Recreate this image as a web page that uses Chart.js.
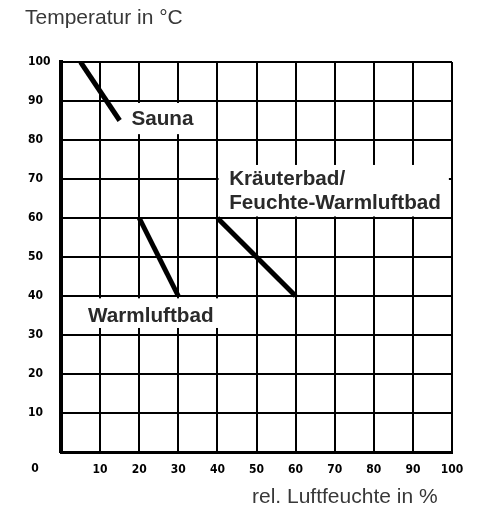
<!DOCTYPE html>
<html lang="de">
<head>
    <meta charset="UTF-8">
    <title>Temperatur / Luftfeuchte</title>
    <style>
        body { margin: 0; background: #fff; }
        #wrap { width: 480px; height: 507px; }
    </style>
    <script src="https://cdn.jsdelivr.net/npm/chart.js@4.4.2/dist/chart.umd.min.js"></script>
</head>
<body>
    <div id="wrap"><canvas id="klimaChart" width="480" height="507"></canvas></div>

    <script>
        // Achsen
        const humidityTicks = [0, 10, 20, 30, 40, 50, 60, 70, 80, 90, 100];
        const temperatureTicks = [0, 10, 20, 30, 40, 50, 60, 70, 80, 90, 100];

        // Bereiche (rel. Luftfeuchte in %, Temperatur in °C)
        const saunaHumidity = [5, 15];
        const saunaTemp = [100, 85];
        const warmluftHumidity = [20, 30];
        const warmluftTemp = [60, 40];
        const kraeuterHumidity = [40, 60];
        const kraeuterTemp = [60, 40];

        const labelFont = 'bold 20.7px "Liberation Sans", Arial, sans-serif';
        const tickFont = { family: '"Liberation Sans Narrow", "DejaVu Sans Condensed", sans-serif', size: 12, weight: 'bold' };

        function toPoints(xs, ys) {
            return xs.map((x, i) => ({ x: x, y: ys[i] }));
        }

        // weisse Hintergruende hinter den Beschriftungen (in Datenkoordinaten)
        const boxes = [
            { x0: 13.5, x1: 35, y0: 81.5, y1: 89.5 },
            { x0: 40.3, x1: 99.2, y0: 60.4, y1: 73.6 },
            { x0: 0.8, x1: 42, y0: 31.8, y1: 39.4 }
        ];

        const labels = [
            { text: 'Sauna', x: 18, y: 85.4 },
            { text: 'Kräuterbad/', x: 43, y: 70 },
            { text: 'Feuchte-Warmluftbad', x: 43, y: 63.8 },
            { text: 'Warmluftbad', x: 6.9, y: 34.9 }
        ];

        const annotations = {
            id: 'annotations',
            beforeDatasetsDraw(chart) {
                const { ctx, scales: { x, y } } = chart;
                ctx.save();
                ctx.fillStyle = '#fff';
                boxes.forEach(b => {
                    const l = x.getPixelForValue(b.x0), r = x.getPixelForValue(b.x1);
                    const t = y.getPixelForValue(b.y1), bt = y.getPixelForValue(b.y0);
                    ctx.fillRect(l, t, r - l, bt - t);
                });
                ctx.restore();
            },
            afterDraw(chart) {
                const { ctx, chartArea, scales: { x, y } } = chart;
                ctx.save();
                ctx.textBaseline = 'middle';
                ctx.textAlign = 'left';
                ctx.fillStyle = '#2a2a2a';
                ctx.font = labelFont;
                labels.forEach(l => {
                    ctx.fillText(l.text, x.getPixelForValue(l.x), y.getPixelForValue(l.y));
                });

                // Achsentitel
                ctx.fillStyle = '#383838';
                ctx.font = '21px "Liberation Sans", Arial, sans-serif';
                ctx.fillText('Temperatur in °C', 25, 18);
                ctx.fillText('rel. Luftfeuchte in %', 252, 497);

                // gemeinsamer Nullpunkt unten links
                ctx.fillStyle = '#000';
                ctx.font = 'bold 12px "Liberation Sans Narrow", "DejaVu Sans Condensed", sans-serif';
                ctx.textAlign = 'center';
                ctx.fillText('0', chartArea.left - 26, chartArea.bottom + 17);
                ctx.restore();
            }
        };

        const lineStyle = {
            borderColor: '#000',
            borderWidth: 5,
            borderCapStyle: 'butt',
            pointRadius: 0,
            showLine: true,
            fill: false
        };

        new Chart(document.getElementById('klimaChart'), {
            type: 'scatter',
            data: {
                datasets: [
                    Object.assign({ label: 'Sauna', data: toPoints(saunaHumidity, saunaTemp) }, lineStyle),
                    Object.assign({ label: 'Warmluftbad', data: toPoints(warmluftHumidity, warmluftTemp) }, lineStyle),
                    Object.assign({ label: 'Kräuterbad/Feuchte-Warmluftbad', data: toPoints(kraeuterHumidity, kraeuterTemp) }, lineStyle)
                ]
            },
            options: {
                responsive: false,
                animation: false,
                layout: { padding: { left: 28, right: 28, top: 62, bottom: 0 } },
                plugins: { legend: { display: false }, tooltip: { enabled: false } },
                scales: {
                    x: {
                        type: 'linear',
                        min: humidityTicks[0],
                        max: humidityTicks[humidityTicks.length - 1],
                        afterBuildTicks: s => { s.ticks = humidityTicks.map(v => ({ value: v })); },
                        afterFit: s => { s.height = 55; },
                        grid: { color: '#000', lineWidth: 2, drawTicks: false },
                        border: { color: '#000', width: 3 },
                        ticks: {
                            color: '#000',
                            font: tickFont,
                            padding: 11,
                            maxRotation: 0,
                            callback: v => v === 0 ? '' : String(v)
                        }
                    },
                    y: {
                        type: 'linear',
                        min: temperatureTicks[0],
                        max: temperatureTicks[temperatureTicks.length - 1],
                        afterBuildTicks: s => { s.ticks = temperatureTicks.map(v => ({ value: v })); },
                        afterFit: s => { s.width = 33; },
                        grid: { color: '#000', lineWidth: 2, drawTicks: false },
                        border: { color: '#000', width: 4 },
                        ticks: {
                            color: '#000',
                            font: tickFont,
                            crossAlign: 'far',
                            callback: v => v === 0 ? '' : String(v)
                        }
                    }
                }
            },
            plugins: [annotations]
        });
    </script>
</body>
</html>
